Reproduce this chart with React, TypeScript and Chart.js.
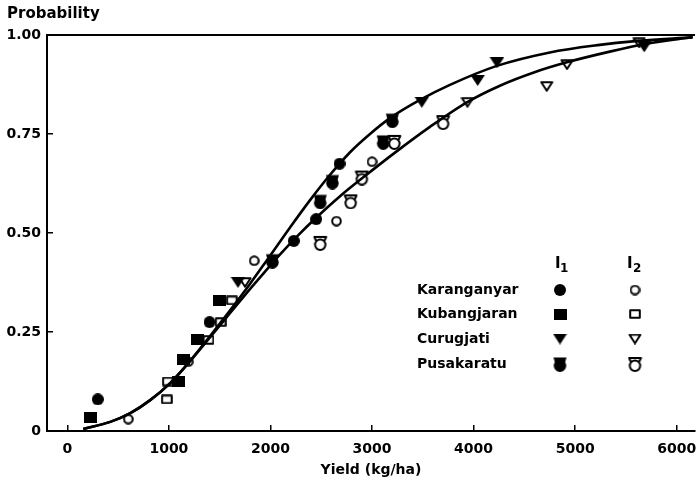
import { useEffect, useRef } from 'react';
import { Chart, registerables } from 'chart.js';

Chart.register(...registerables);

// Axis ticks
const yieldTicks = [0, 1000, 2000, 3000, 4000, 5000, 6000];
const probabilityTicks = [0, 0.25, 0.5, 0.75, 1];

// Fitted cumulative curves (yield kg/ha, probability)
const curveI1Yield = [157, 423, 620, 816, 1013, 1210, 1406, 1603, 1800, 1967, 2193, 2390, 2587, 2784, 2980, 3177, 3472, 3767, 4229, 4751, 5243, 5567, 6157];
const curveI1Prob = [0.005, 0.023, 0.045, 0.078, 0.121, 0.177, 0.24, 0.305, 0.372, 0.432, 0.514, 0.583, 0.647, 0.704, 0.75, 0.79, 0.836, 0.874, 0.922, 0.956, 0.975, 0.984, 0.994];
const curveI2Yield = [157, 423, 620, 816, 1013, 1210, 1406, 1603, 1800, 1948, 2095, 2272, 2439, 2685, 2911, 3226, 3570, 3934, 4259, 4600, 4918, 5341, 5705, 6157];
const curveI2Prob = [0.005, 0.023, 0.045, 0.078, 0.121, 0.177, 0.237, 0.298, 0.359, 0.403, 0.446, 0.494, 0.536, 0.593, 0.64, 0.703, 0.768, 0.83, 0.872, 0.906, 0.931, 0.958, 0.978, 0.995];

// Observations per site, input level I1 and I2
const sites = ['Karanganyar', 'Kubangjaran', 'Curugjati', 'Pusakaratu'];

const karanganyarI1Yield = [300, 1400, 2230, 2450, 2680];
const karanganyarI1Prob = [0.08, 0.275, 0.48, 0.535, 0.675];
const karanganyarI2Yield = [600, 1190, 1840, 2650, 3000];
const karanganyarI2Prob = [0.03, 0.175, 0.43, 0.53, 0.68];

const kubangjaranI1Yield = [230, 1090, 1140, 1280, 1500];
const kubangjaranI1Prob = [0.035, 0.125, 0.18, 0.23, 0.33];
const kubangjaranI2Yield = [980, 990, 1390, 1510, 1620];
const kubangjaranI2Prob = [0.08, 0.125, 0.23, 0.275, 0.33];

const curugjatiI1Yield = [1680, 3490, 4040, 4230, 5680];
const curugjatiI1Prob = [0.375, 0.83, 0.885, 0.93, 0.97];
const curugjatiI2Yield = [1750, 3940, 4720, 4920, 5630];
const curugjatiI2Prob = [0.375, 0.83, 0.87, 0.925, 0.98];

const pusakaratuI1Yield = [2020, 2490, 2610, 3110, 3200];
const pusakaratuI1Prob = [0.43, 0.58, 0.63, 0.73, 0.785];
const pusakaratuI2Yield = [2490, 2790, 2900, 3220, 3700];
const pusakaratuI2Prob = [0.475, 0.58, 0.64, 0.73, 0.78];

const FONT = '"DejaVu Sans", sans-serif';

const toPoints = (xs: number[], ys: number[]) => xs.map((x, i) => ({ x, y: ys[i] }));

type Shape = 'circle' | 'square' | 'triangle' | 'cap';

function makeMarker(shape: Shape, filled: boolean): HTMLCanvasElement {
  const sizes: Record<Shape, [number, number]> = {
    circle: filled ? [12, 12] : [11, 11],
    square: filled ? [13, 11] : [12, 10],
    triangle: filled ? [15, 11] : [14, 11],
    cap: [15, 16],
  };
  const [w, h] = sizes[shape];
  const c = document.createElement('canvas');
  c.width = w;
  c.height = h;
  const g = c.getContext('2d')!;
  g.fillStyle = '#000';
  g.strokeStyle = '#000';
  g.lineWidth = 2;
  g.lineJoin = 'round';
  const inset = filled ? 0 : 1.2;
  g.beginPath();
  if (shape === 'circle') {
    g.arc(w / 2, h / 2, Math.min(w, h) / 2 - inset, 0, Math.PI * 2);
    filled ? g.fill() : g.stroke();
  } else if (shape === 'square') {
    g.rect(inset, inset, w - 2 * inset, h - 2 * inset);
    filled ? g.fill() : g.stroke();
  } else if (shape === 'triangle') {
    g.moveTo(inset + 0.3, inset);
    g.lineTo(w - inset - 0.3, inset);
    g.lineTo(w / 2, h - inset);
    g.closePath();
    filled ? g.fill() : g.stroke();
  } else {
    if (filled) {
      g.arc(7.5, 9.6, 6.3, 0, Math.PI * 2);
      g.fill();
      g.beginPath();
      g.moveTo(1, 1.5);
      g.lineTo(14, 1.5);
      g.lineTo(12.6, 6.5);
      g.lineTo(2.4, 6.5);
      g.closePath();
      g.fill();
    } else {
      g.arc(7.5, 9.8, 5.2, 0, Math.PI * 2);
      g.stroke();
      g.beginPath();
      g.moveTo(3.4, 6);
      g.lineTo(1.6, 2);
      g.lineTo(13.4, 2);
      g.lineTo(11.6, 6);
      g.stroke();
    }
  }
  return c;
}

export default function App() {
  const canvasRef = useRef<HTMLCanvasElement | null>(null);

  useEffect(() => {
    const canvas = canvasRef.current;
    if (!canvas) return;

    const shapes: Shape[] = ['circle', 'square', 'triangle', 'cap'];
    const markersI1 = shapes.map((s) => makeMarker(s, true));
    const markersI2 = shapes.map((s) => makeMarker(s, false));

    const observed = [
      [toPoints(karanganyarI1Yield, karanganyarI1Prob), toPoints(karanganyarI2Yield, karanganyarI2Prob)],
      [toPoints(kubangjaranI1Yield, kubangjaranI1Prob), toPoints(kubangjaranI2Yield, kubangjaranI2Prob)],
      [toPoints(curugjatiI1Yield, curugjatiI1Prob), toPoints(curugjatiI2Yield, curugjatiI2Prob)],
      [toPoints(pusakaratuI1Yield, pusakaratuI1Prob), toPoints(pusakaratuI2Yield, pusakaratuI2Prob)],
    ];

    const markerSets: any[] = [];
    sites.forEach((site, i) => {
      markerSets.push({
        label: `${site} I1`,
        data: observed[i][0],
        pointStyle: markersI1[i],
        pointRadius: 6,
        showLine: false,
        order: 0,
      });
      markerSets.push({
        label: `${site} I2`,
        data: observed[i][1],
        pointStyle: markersI2[i],
        pointRadius: 6,
        showLine: false,
        order: 0,
      });
    });

    const curve = (label: string, xs: number[], ys: number[]) => ({
      label,
      data: toPoints(xs, ys),
      showLine: true,
      pointRadius: 0,
      borderColor: '#000',
      borderWidth: 2.6,
      cubicInterpolationMode: 'monotone' as const,
      fill: false,
      order: 1,
    });

    const annotations = {
      id: 'frameAndKey',
      afterDraw(chart: Chart) {
        const { ctx, chartArea } = chart;
        ctx.save();
        // top frame line
        ctx.strokeStyle = '#000';
        ctx.lineWidth = 2;
        ctx.beginPath();
        ctx.moveTo(chartArea.left - 1, chartArea.top);
        ctx.lineTo(chartArea.right, chartArea.top);
        ctx.stroke();

        ctx.fillStyle = '#000';
        ctx.textBaseline = 'middle';
        ctx.textAlign = 'left';
        ctx.font = `bold 15px ${FONT}`;
        ctx.fillText('Probability', 7, 14);

        // key
        const col1 = 560;
        const col2 = 635;
        ctx.font = `bold 15px ${FONT}`;
        ctx.textBaseline = 'alphabetic';
        ctx.fillText('I', col1 - 5, 268);
        ctx.fillText('I', col2 - 8, 268);
        ctx.font = `bold 12px ${FONT}`;
        ctx.fillText('1', col1 + 0, 272);
        ctx.fillText('2', col2 - 2, 272);

        ctx.textBaseline = 'middle';
        ctx.font = `bold 14px ${FONT}`;
        const rows = [290, 314, 339, 364];
        sites.forEach((site, i) => {
          ctx.fillText(site, 417, rows[i]);
          const a = markersI1[i];
          const b = markersI2[i];
          ctx.drawImage(a, col1 - a.width / 2, rows[i] - a.height / 2);
          ctx.drawImage(b, col2 - b.width / 2, rows[i] - b.height / 2);
        });
        ctx.restore();
      },
    };

    const chart = new Chart(canvas, {
      type: 'scatter',
      data: {
        datasets: [
          ...markerSets,
          curve('I1 fit', curveI1Yield, curveI1Prob),
          curve('I2 fit', curveI2Yield, curveI2Prob),
        ],
      },
      options: {
        animation: false,
        responsive: true,
        maintainAspectRatio: false,
        layout: { autoPadding: false, padding: { top: 35, right: 3, left: 0, bottom: 0 } },
        plugins: {
          legend: { display: false },
          tooltip: { enabled: false },
        },
        scales: {
          x: {
            type: 'linear',
            position: 'bottom',
            min: -200,
            max: 6180,
            afterBuildTicks: (s: any) => {
              s.ticks = yieldTicks.map((v) => ({ value: v }));
            },
            afterFit: (s: any) => {
              s.height = 56;
              s.paddingLeft = 0;
              s.paddingRight = 0;
            },
            ticks: {
              color: '#000',
              font: { family: FONT, size: 14, weight: 'bold' },
              padding: 16,
              maxRotation: 0,
              autoSkip: false,
              callback: (v: any) => String(v),
            },
            grid: {
              display: true,
              drawOnChartArea: false,
              drawTicks: true,
              tickLength: -6,
              color: '#000',
              lineWidth: 1.5,
            },
            border: { display: true, color: '#000', width: 2 },
            title: {
              display: true,
              text: 'Yield (kg/ha)',
              color: '#000',
              font: { family: FONT, size: 14, weight: 'bold' },
              padding: { top: 0, bottom: 8 },
            },
          },
          y: {
            type: 'linear',
            min: 0,
            max: 1,
            afterBuildTicks: (s: any) => {
              s.ticks = probabilityTicks.map((v) => ({ value: v }));
            },
            afterFit: (s: any) => {
              s.width = 47;
            },
            ticks: {
              color: '#000',
              font: { family: FONT, size: 14, weight: 'bold' },
              padding: 12,
              callback: (v: any) => (Number(v) === 0 ? '0' : Number(v).toFixed(2)),
            },
            grid: {
              display: true,
              drawOnChartArea: false,
              drawTicks: true,
              tickLength: -6,
              color: '#000',
              lineWidth: 1.5,
            },
            border: { display: true, color: '#000', width: 2 },
          },
        },
      } as any,
      plugins: [annotations],
    });

    return () => chart.destroy();
  }, []);

  return (
    <div style={{ position: 'fixed', left: 0, top: 0, width: 698, height: 487, background: '#fff' }}>
      <canvas ref={canvasRef} />
    </div>
  );
}
